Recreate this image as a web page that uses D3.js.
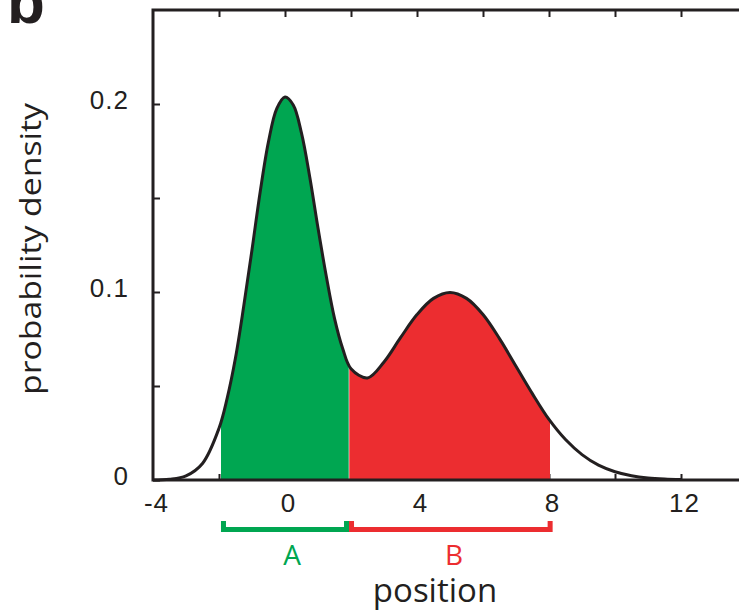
<!DOCTYPE html>
<html>
<head>
<meta charset="utf-8">
<script src="https://cdn.jsdelivr.net/npm/d3@7"></script>
<style>
  body { margin: 0; background: #fff; }
  svg { display: block; }
</style>
</head>
<body>
<div id="chart"></div>
<script>
// values
const positions = [-4, -3.5, -3, -2.5, -2, -1.75, -1.5, -1.25, -1, -0.75, -0.5, -0.25, 0,
                   0.25, 0.5, 0.75, 1, 1.25, 1.5, 1.75, 2, 2.5, 3, 3.5,
                   4, 4.5, 5, 5.5, 6, 6.5, 7, 7.5, 8, 8.5, 9, 9.5, 10, 10.5, 11, 11.5, 12];
const density = [0.0000, 0.0004, 0.0022, 0.0088, 0.0275, 0.0437, 0.0650, 0.0925, 0.1225, 0.1535,
                 0.1800, 0.1975, 0.2037, 0.1995, 0.1845, 0.1612, 0.1340, 0.1085, 0.0860, 0.0698,
                 0.0592, 0.0543, 0.0628, 0.0757, 0.0880, 0.0966, 0.0997, 0.0966,
                 0.0880, 0.0752, 0.0605, 0.0458, 0.0322, 0.0215, 0.0135, 0.0079, 0.0044, 0.0023,
                 0.0011, 0.0005, 0.0002];
const regionA = [-1.94, 1.94];
const regionB = [1.94, 8.03];
const xTicks = [-2, 0, 2, 4, 6, 8, 10, 12];
const xLabels = [-4, 0, 4, 8, 12];
const yTicks = [0, 0.05, 0.1, 0.15, 0.2];
const yLabels = [0, 0.1, 0.2];

const width = 739, height = 615;
const ink = "#231f20", green = "#00a651", red = "#ec2d30";
const tickFont = "'Liberation Sans', Arial, sans-serif";

const svg = d3.select("#chart").append("svg")
    .attr("width", width)
    .attr("height", height);

const x = d3.scaleLinear().domain([-4, 14]).range([153, 747]);
const y = d3.scaleLinear().domain([0, 0.25]).range([480, 10]);

const pts = positions.map((p, i) => ({ p: p, d: density[i] }));

// bottom ticks (inside, under the fill)
const bottomTicks = svg.append("g")
    .attr("transform", `translate(0,${y(0)})`)
    .call(d3.axisBottom(x).tickValues(xTicks).tickSizeInner(-6).tickSizeOuter(0).tickFormat(""));
bottomTicks.select(".domain").remove();
bottomTicks.selectAll("line").attr("stroke", ink).attr("stroke-width", 2);

// clip regions for the two coloured areas
function addClip(id, r) {
    svg.append("clipPath").attr("id", id)
        .append("rect")
        .attr("x", x(r[0])).attr("y", 0)
        .attr("width", x(r[1]) - x(r[0]))
        .attr("height", y(0));
}
addClip("clipA", regionA);
addClip("clipB", regionB);

const area = d3.area()
    .x(d => x(d.p))
    .y0(y(0))
    .y1(d => y(d.d))
    .curve(d3.curveCatmullRom);

svg.append("path").datum(pts)
    .attr("d", area)
    .attr("fill", green)
    .attr("clip-path", "url(#clipA)");

svg.append("path").datum(pts)
    .attr("d", area)
    .attr("fill", red)
    .attr("clip-path", "url(#clipB)");

// thin light seam between the regions
svg.append("line")
    .attr("x1", x(regionB[0])).attr("x2", x(regionB[0]))
    .attr("y1", y(0.06)).attr("y2", y(0))
    .attr("stroke", "#fff").attr("stroke-opacity", 0.6).attr("stroke-width", 1);

const line = d3.line()
    .x(d => x(d.p))
    .y(d => y(d.d))
    .curve(d3.curveCatmullRom);

svg.append("path").datum(pts)
    .attr("d", line)
    .attr("fill", "none")
    .attr("stroke", ink)
    .attr("stroke-width", 3);

// frame
svg.append("rect")
    .attr("x", x(-4)).attr("y", y(0.25))
    .attr("width", x(14) - x(-4))
    .attr("height", y(0) - y(0.25))
    .attr("fill", "none")
    .attr("stroke", ink)
    .attr("stroke-width", 3);

// top ticks
const topTicks = svg.append("g")
    .attr("transform", `translate(0,${y(0.25)})`)
    .call(d3.axisTop(x).tickValues(xTicks).tickSizeInner(-7).tickSizeOuter(0).tickFormat(""));
topTicks.select(".domain").remove();
topTicks.selectAll("line").attr("stroke", ink).attr("stroke-width", 2);

// bottom labels
const bottomLabels = svg.append("g")
    .attr("transform", `translate(0,${y(0)})`)
    .call(d3.axisBottom(x).tickValues(xLabels).tickSize(0).tickPadding(14)
        .tickFormat(d => String(d)));
bottomLabels.select(".domain").remove();
bottomLabels.selectAll("text")
    .attr("dx", 3)
    .attr("fill", ink)
    .style("font-family", tickFont)
    .style("font-size", "26px")
    .style("letter-spacing", "1px");

// left ticks and labels
const leftAxis = svg.append("g")
    .attr("transform", `translate(${x(-4)},0)`)
    .call(d3.axisLeft(y).tickValues(yTicks).tickSizeInner(-7).tickSizeOuter(0).tickPadding(24)
        .tickFormat(d => yLabels.includes(d) ? (d === 0 ? "0" : d3.format(".1f")(d)) : ""));
leftAxis.select(".domain").remove();
leftAxis.selectAll("line").attr("stroke", ink).attr("stroke-width", 2);
leftAxis.selectAll("text")
    .attr("dy", "0.16em")
    .attr("fill", ink)
    .style("font-family", tickFont)
    .style("font-size", "26px")
    .style("letter-spacing", "1px");

// region brackets
function bracket(r, color) {
    const x0 = x(r[0]) + 2.5, x1 = x(r[1]) - 2.5;
    svg.append("path")
        .attr("d", `M${x0},521 V529.5 H${x1} V521`)
        .attr("fill", "none")
        .attr("stroke", color)
        .attr("stroke-width", 5)
        .attr("stroke-linejoin", "miter");
}
bracket(regionA, green);
bracket([regionB[0], regionB[1] + 0.08], red);

const sans = "'Open Sans', 'Noto Sans', sans-serif";

svg.append("text")
    .attr("x", 292).attr("y", 565)
    .attr("text-anchor", "middle")
    .attr("fill", green)
    .style("font-family", sans)
    .style("font-size", "28px")
    .text("A");

svg.append("text")
    .attr("x", 454).attr("y", 565)
    .attr("text-anchor", "middle")
    .attr("fill", red)
    .style("font-family", sans)
    .style("font-size", "28px")
    .text("B");

svg.append("text")
    .attr("x", 435).attr("y", 602)
    .attr("text-anchor", "middle")
    .attr("fill", ink)
    .style("font-family", sans)
    .style("font-size", "33px")
    .text("position");

svg.append("text")
    .attr("transform", "translate(41,249) rotate(-90)")
    .attr("text-anchor", "middle")
    .attr("fill", ink)
    .attr("textLength", 292)
    .attr("lengthAdjust", "spacingAndGlyphs")
    .style("font-family", sans)
    .style("font-size", "29px")
    .text("probability density");

// panel letter, cut at the top edge
svg.append("text")
    .attr("x", 7).attr("y", 23)
    .attr("fill", ink)
    .style("font-family", tickFont)
    .style("font-weight", "bold")
    .style("font-size", "62px")
    .text("b");
</script>
</body>
</html>
